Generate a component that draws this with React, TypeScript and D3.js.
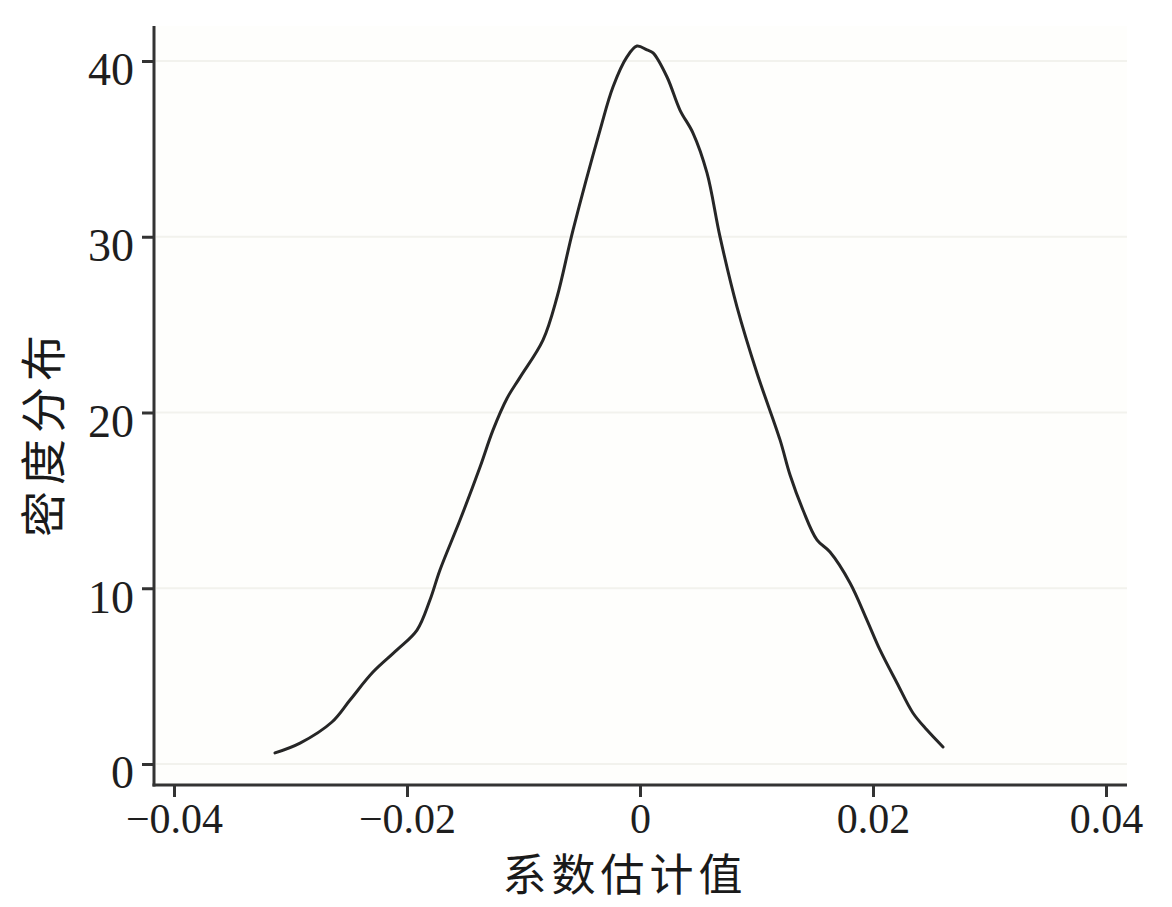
import { useRef, useEffect } from 'react';
import * as d3 from 'd3';

// density curve (coefficient estimate, density)
const coefX = [
  -0.03133, -0.02918, -0.02644, -0.02489, -0.02292, -0.02086, -0.01914, -0.01803,
  -0.01717, -0.01545, -0.01373, -0.01262, -0.01142, -0.0103, -0.00833, -0.00712, -0.00575,
  -0.00343, -0.00232, -0.00112, -0.00026, 0.0006, 0.00112, 0.00232, 0.00343,
  0.00455, 0.00575, 0.00687, 0.00833, 0.01004, 0.01202, 0.01288, 0.01399,
  0.01519, 0.01631, 0.01803, 0.01948, 0.0206, 0.02206, 0.02343, 0.02464, 0.02601,
];
const density = [
  0.63, 1.19, 2.39, 3.64, 5.23, 6.49, 7.62, 9.33,
  11.04, 13.88, 16.9, 19.0, 20.8, 22.0, 24.12, 26.57, 30.38,
  36.07, 38.52, 40.23, 40.85, 40.63, 40.46, 39.09, 37.21,
  35.9, 33.63, 29.99, 26.0, 22.25, 18.44, 16.44, 14.45,
  12.75, 12.06, 10.3, 8.19, 6.49, 4.61, 2.9, 1.93, 0.97,
];

const xTicks = [-0.04, -0.02, 0, 0.02, 0.04];
const xTickLabels = ['\u22120.04', '\u22120.02', '0', '0.02', '0.04'];
const yTicks = [0, 10, 20, 30, 40];
const yTickLabels = ['0', '10', '20', '30', '40'];

const xTitle = '系数估计值';
const yTitle = '密度分布';

const W = 1172;
const H = 907;

export default function App() {
  const svgRef = useRef<SVGSVGElement>(null);

  useEffect(() => {
    if (!svgRef.current) return;
    const svg = d3.select(svgRef.current);
    svg.selectAll('*').remove();

    const x = d3.scaleLinear().domain([-0.04, 0.04]).range([174, 1106]);
    const y = d3.scaleLinear().domain([0, 40]).range([764, 61]);

    const left = 154;
    const right = 1127;
    const bottom = 785;
    const top = 26;

    svg.append('rect').attr('width', W).attr('height', H).attr('fill', '#ffffff');
    svg
      .append('rect')
      .attr('x', left)
      .attr('y', top)
      .attr('width', right - left)
      .attr('height', bottom - top)
      .attr('fill', '#fefefc');

    // faint horizontal grid
    svg
      .append('g')
      .selectAll('line')
      .data(yTicks)
      .join('line')
      .attr('x1', left + 2)
      .attr('x2', right)
      .attr('y1', (d) => y(d))
      .attr('y2', (d) => y(d))
      .attr('stroke', '#f2f2ed')
      .attr('stroke-width', 2);

    // density line
    const pts = coefX.map((v, i) => [v, density[i]] as [number, number]);
    const line = d3
      .line<[number, number]>()
      .x((d) => x(d[0]))
      .y((d) => y(d[1]))
      .curve(d3.curveCatmullRom.alpha(0.5));
    svg
      .append('path')
      .datum(pts)
      .attr('d', line)
      .attr('fill', 'none')
      .attr('stroke', '#262626')
      .attr('stroke-width', 3)
      .attr('stroke-linejoin', 'round')
      .attr('stroke-linecap', 'round');

    const axisColor = '#333333';
    const serif = '"Liberation Serif", "DejaVu Serif", serif';

    // y axis
    const yAxis = svg
      .append('g')
      .attr('transform', `translate(${left},0)`)
      .call(
        d3
          .axisLeft(y)
          .tickValues(yTicks)
          .tickSize(12)
          .tickPadding(8)
          .tickFormat((_d, i) => yTickLabels[i])
      );
    yAxis.select('.domain').remove();
    yAxis.selectAll('.tick line').attr('stroke', axisColor).attr('stroke-width', 3);
    yAxis
      .selectAll('.tick text')
      .attr('fill', '#1e1e1e')
      .attr('dy', '0.52em')
      .style('font-family', serif)
      .style('font-size', '46px');
    svg
      .append('line')
      .attr('x1', left)
      .attr('x2', left)
      .attr('y1', top)
      .attr('y2', bottom + 1.5)
      .attr('stroke', axisColor)
      .attr('stroke-width', 3);

    // x axis
    const xAxis = svg
      .append('g')
      .attr('transform', `translate(0,${bottom})`)
      .call(
        d3
          .axisBottom(x)
          .tickValues(xTicks)
          .tickSize(12)
          .tickPadding(6)
          .tickFormat((_d, i) => xTickLabels[i])
      );
    xAxis.select('.domain').remove();
    xAxis.selectAll('.tick line').attr('stroke', axisColor).attr('stroke-width', 3);
    xAxis
      .selectAll('.tick text')
      .attr('fill', '#1e1e1e')
      .style('font-family', serif)
      .style('font-size', '42px');
    svg
      .append('line')
      .attr('x1', left - 1.5)
      .attr('x2', right)
      .attr('y1', bottom)
      .attr('y2', bottom)
      .attr('stroke', axisColor)
      .attr('stroke-width', 3);

    // titles
    svg
      .append('text')
      .attr('x', 625)
      .attr('y', 891)
      .attr('text-anchor', 'middle')
      .attr('fill', '#1a1a1a')
      .style('font-family', '"Noto Sans CJK SC", sans-serif')
      .style('font-size', '44px')
      .style('letter-spacing', '5px')
      .text(xTitle);
    svg
      .append('text')
      .attr('transform', 'translate(60,433) rotate(-90)')
      .attr('text-anchor', 'middle')
      .attr('fill', '#1a1a1a')
      .style('font-family', '"Noto Sans CJK SC", sans-serif')
      .style('font-size', '46px')
      .style('letter-spacing', '6px')
      .text(yTitle);
  }, []);

  return (
    <svg
      ref={svgRef}
      width={W}
      height={H}
      viewBox={`0 0 ${W} ${H}`}
      style={{ position: 'absolute', left: 0, top: 0 }}
      aria-label="Density plot"
    ></svg>
  );
}
